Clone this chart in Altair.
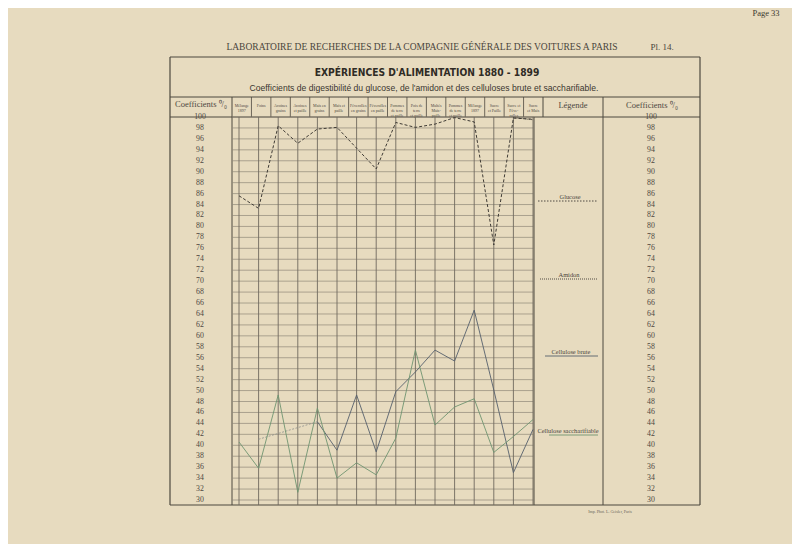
import altair as alt
import pandas as pd

# ---------------- data ----------------
columns = ["Mélange\n1897", "Foins", "Avoines\ngrains", "Avoines\net paille",
           "Maïs en\ngrains", "Maïs et\npaille", "Féverolles\nen grains",
           "Féverolles\nen paille", "Pommes\nde terre\net paille",
           "Pois de\nterre\net paille", "Maltés\nMaïs-\npaille",
           "Pommes\nde terre\net paille", "Mélange\n1897", "Sucre\net Paille",
           "Sucre et\nFéve-\nrolles", "Sucre\net Maïs"]
glucose = [85.6, 83.3, 98.4, 95.2, 97.8, 98.1, 94.3, 90.5, 99.0, 98.1, 98.7,
           99.9, 99.1, 76.6, 99.8, 99.6]
amidon = [None] * 14 + [99.9, 99.5]
cellulose_brute = [None, 41.1, None, None, 44.3, 39.1, 49.2, 38.8, 49.8, 53.4,
                   57.4, 55.4, 64.7, 50.1, 35.0, 42.9]
cellulose_sacch = [40.6, 35.8, 49.2, 31.4, 46.8, 34.0, 36.8, 34.6, 41.3, 57.4,
                   43.7, 47.0, 48.5, 38.7, 41.6, 44.7]
tick_values = list(range(30, 101, 2))
legend_names = ["Glucose", "Amidon", "Cellulose brute", "Cellulose saccharifiable"]

# ---------------- layout helpers ----------------
W, H = 784, 536
PAPER = "#e7dbbf"
INK = "#4d483f"
GRID = "#8f8878"
SERIF = "Liberation Serif"
SANS = "Liberation Sans"


def px(x):
    return x - 8


def py(y):
    return y - 8


XL, XR = 239, 533          # first / last data column (page px)
xs = alt.Scale(domain=[0, 15], range=[px(XL), px(XR)])
ys = alt.Scale(domain=[30, 100], range=[py(500), py(117)])
step = (XR - XL) / 15


def idx_of(page_x):
    return (page_x - XL) / step


one = pd.DataFrame({"a": [0]})


def rule(x1, y1, x2, y2, color=INK, width=1.0, dash=None):
    kw = {"strokeDash": dash} if dash else {}
    return alt.Chart(one).mark_rule(color=color, strokeWidth=width, **kw).encode(
        x=alt.value(px(x1)), x2=alt.value(px(x2)),
        y=alt.value(py(y1)), y2=alt.value(py(y2)))


def text(s, x, y, size, font=SERIF, color=INK, weight="normal", align="center",
         baseline="middle", **kw):
    return alt.Chart(one).mark_text(
        text=s, fontSize=size, font=font, color=color, fontWeight=weight,
        align=align, baseline=baseline, **kw).encode(
        x=alt.value(px(x)), y=alt.value(py(y)))


layers = []

# page texts
layers.append(text("Page 33", 766, 9, 8.5, color="#3c3830", baseline="top"))
layers.append(text("LABORATOIRE DE RECHERCHES DE LA COMPAGNIE GÉNÉRALE DES VOITURES A PARIS",
                   422, 47, 9.5, color="#4a453c"))
layers.append(text("Pl. 14.", 662, 47, 9, color="#4a453c"))

# frame
FL, FR, FT, FB = 170, 700, 57, 505
HT, HB = 97, 117
layers += [rule(FL, FT, FR, FT, width=1.2), rule(FL, FB, FR, FB, width=1.2),
           rule(FL, FT, FL, FB, width=1.2), rule(FR, FT, FR, FB, width=1.2),
           rule(FL, HT, FR, HT, width=1.0), rule(FL, HB, FR, HB, width=1.0)]
# column borders
layers += [rule(232, HT, 232, FB, width=1.0), rule(534, HB, 534, FB, width=1.0),
           rule(543, HT, 543, HB, width=1.0), rule(603, HT, 603, FB, width=1.0)]

# title
layers.append(text("EXPÉRIENCES D'ALIMENTATION 1880 - 1899", 427, 73, 10.2,
                   font="DejaVu Sans Condensed, DejaVu Sans",
                   weight="bold", color="#2f2b25"))
layers.append(text("Coefficients de digestibilité du glucose, de l'amidon et des celluloses brute et saccharifiable.",
                   424, 88, 8.6, font=SANS, color="#3a362f"))

# header labels
layers.append(text("Coefficients ⁰/₀", 201, 104, 8.5))
layers.append(text("Légende", 573, 105, 8.5))
layers.append(text("Coefficients ⁰/₀", 652, 105, 8.5))

# header cells (16 cells between 232 and 543)
bounds = [idx_of(232 + k * (543 - 232) / 16) for k in range(17)]
hdr_b = pd.DataFrame({"b": bounds[1:-1]})
layers.append(alt.Chart(hdr_b).mark_rule(color=INK, strokeWidth=0.8).encode(
    x=alt.X("b:Q", scale=xs, axis=None), y=alt.value(py(HT)), y2=alt.value(py(HB))))
hdr_t = pd.DataFrame({"c": [(bounds[k] + bounds[k + 1]) / 2 for k in range(16)],
                      "t": columns})
layers.append(alt.Chart(hdr_t).mark_text(fontSize=4.0, font=SERIF, color=INK,
                                         lineBreak="\n", lineHeight=4.8,
                                         baseline="middle").encode(
    x=alt.X("c:Q", scale=xs, axis=None), y=alt.value(py(106)), text="t:N"))

# horizontal grid
grid_df = pd.DataFrame({"v": tick_values})
layers.append(alt.Chart(grid_df).mark_rule(color=GRID, strokeWidth=0.7).encode(
    y=alt.Y("v:Q", scale=ys, axis=None), x=alt.value(px(232)), x2=alt.value(px(534))))
# vertical grid (data columns)
vg = pd.DataFrame({"i": list(range(16))})
layers.append(alt.Chart(vg).mark_rule(color="#6f695d", strokeWidth=0.9).encode(
    x=alt.X("i:Q", scale=xs, axis=None), y=alt.value(py(HB)), y2=alt.value(py(FB))))

# tick labels, both sides
layers.append(alt.Chart(grid_df).mark_text(fontSize=7.8, font=SERIF, color=INK).encode(
    y=alt.Y("v:Q", scale=ys, axis=None), x=alt.value(px(200)), text="v:Q"))
layers.append(alt.Chart(grid_df).mark_text(fontSize=7.8, font=SERIF, color=INK).encode(
    y=alt.Y("v:Q", scale=ys, axis=None), x=alt.value(px(651)), text="v:Q"))

# series
rows = []
for name, vals in zip(legend_names, [glucose, amidon, cellulose_brute, cellulose_sacch]):
    for i, v in enumerate(vals):
        if v is not None:
            rows.append({"i": i, "v": v, "s": name})
ldf = pd.DataFrame(rows)
styles = {
    "Glucose": dict(color="#3f3b35", strokeWidth=1.0, strokeDash=[3, 2]),
    "Amidon": dict(color="#3f3b35", strokeWidth=1.0, strokeDash=[1, 1]),
    "Cellulose brute": dict(color="#56606c", strokeWidth=0.9),
    "Cellulose saccharifiable": dict(color="#6f9471", strokeWidth=0.9),
}
for name in legend_names:
    base = alt.Chart(ldf).transform_filter(alt.datum.s == name)
    if name == "Cellulose brute":
        # first stretch drawn faint and dotted, as on the plate
        layers.append(base.transform_filter(alt.datum.i <= 4).mark_line(
            color="#8d8f8c", strokeWidth=0.8, strokeDash=[2, 1.5]).encode(
            x=alt.X("i:Q", scale=xs, axis=None), y=alt.Y("v:Q", scale=ys, axis=None)))
        base = base.transform_filter(alt.datum.i >= 4)
    layers.append(base.mark_line(**styles[name]).encode(
        x=alt.X("i:Q", scale=xs, axis=None), y=alt.Y("v:Q", scale=ys, axis=None)))

# legend texts
leg = [("Glucose", 570, 197, 538, 598, [1.5, 1.5], "#3f3b35"),
       ("Amidon", 569, 275, 540, 598, [1, 1], "#3f3b35"),
       ("Cellulose brute", 571, 352, 545, 598, None, "#56606c"),
       ("Cellulose saccharifiable", 568, 431, 549, 598, None, "#6f9471")]
for name, tx, ty, l1, l2, dash, col in leg:
    layers.append(text(name, tx, ty, 6.4, color="#4a453c"))
    layers.append(rule(l1, ty + 4, l2, ty + 4, color=col, width=0.9, dash=dash))

layers.append(text("Imp. Phot. L. Geisler, Paris", 610, 512, 4, color="#6a6458"))

chart = alt.layer(*layers).properties(
    width=W, height=H, padding=0, autosize=alt.AutoSizeParams(type="none"),
    background=PAPER).configure_view(stroke=None)

chart.save("out.html", embed_options={"renderer": "svg", "actions": False})
